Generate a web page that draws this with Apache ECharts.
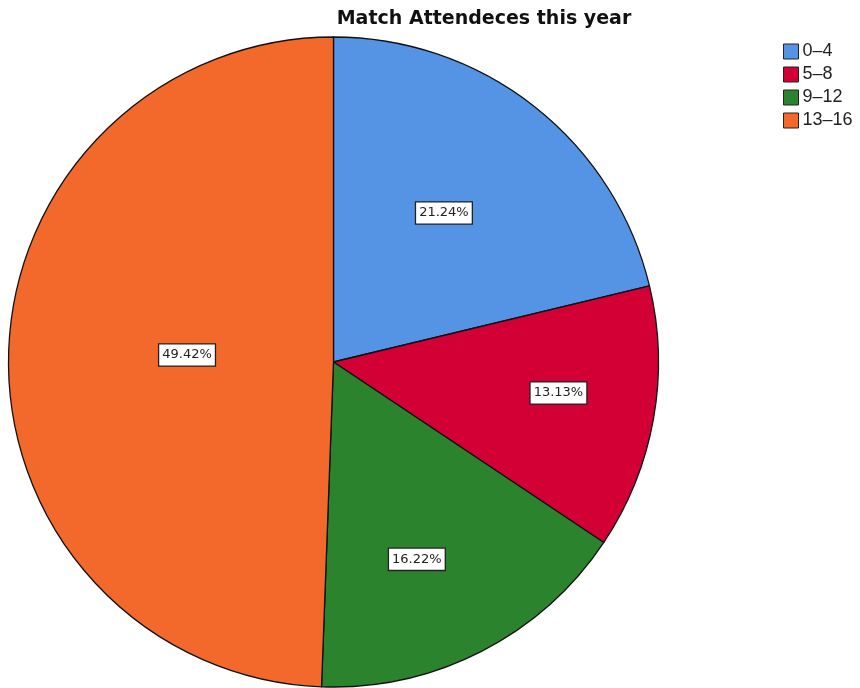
<!DOCTYPE html>
<html>
<head>
<meta charset="utf-8">
<script src="https://cdn.jsdelivr.net/npm/echarts@6/dist/echarts.min.js"></script>
<style>
  html, body { margin: 0; padding: 0; background: #ffffff; }
  #chart { width: 860px; height: 688px; }
</style>
</head>
<body>
<div id="chart"></div>
<script>
  // 年龄段
  var categories = ['0–4', '5–8', '9–12', '13–16'];
  // 百分比
  var percents = [21.24, 13.13, 16.22, 49.42];
  var colors = ['#5594E4', '#D20034', '#2B842D', '#F2692B'];
  // 标签偏移（SPSS 的标签不在同一半径上）
  var labelOffsets = [[8, -19], [62, 2], [8, 50], [19, -4]];

  var myChart = echarts.init(document.getElementById('chart'));

  var pieData = categories.map(function (name, i) {
    return {
      name: name,
      value: percents[i],
      itemStyle: { color: colors[i] },
      label: { offset: labelOffsets[i] }
    };
  });

  var option = {
    backgroundColor: '#ffffff',
    animation: false,
    title: {
      text: 'Match Attendeces this year',
      left: 479,
      textAlign: 'center',
      top: 5,
      textStyle: {
        fontFamily: 'DejaVu Sans, sans-serif',
        fontWeight: 'bold',
        fontSize: 19,
        color: '#111111'
      }
    },
    legend: {
      orient: 'vertical',
      left: 778,
      top: 37,
      itemWidth: 15,
      itemHeight: 15,
      itemGap: 4,
      icon: 'rect',
      data: categories,
      itemStyle: { borderColor: '#222222', borderWidth: 1 },
      textStyle: {
        fontFamily: 'Liberation Sans, sans-serif',
        fontSize: 18,
        lineHeight: 19,
        color: '#222222',
        padding: [0, 0, 0, -1]
      }
    },
    series: [
      {
        type: 'pie',
        center: [333.5, 362],
        radius: 325,
        startAngle: 90,
        clockwise: true,
        data: pieData,
        itemStyle: {
          borderColor: '#111111',
          borderWidth: 1.3
        },
        emphasis: { disabled: true },
        label: {
          show: true,
          position: 'inside',
          formatter: function (p) {
            return p.value.toFixed(2) + '%';
          },
          fontFamily: 'DejaVu Sans, sans-serif',
          fontSize: 13,
          color: '#222222',
          backgroundColor: '#ffffff',
          borderColor: '#222222',
          borderWidth: 1.3,
          padding: [5, 3, 3, 3]
        },
        labelLine: { show: false }
      }
    ]
  };

  myChart.setOption(option);
</script>
</body>
</html>
